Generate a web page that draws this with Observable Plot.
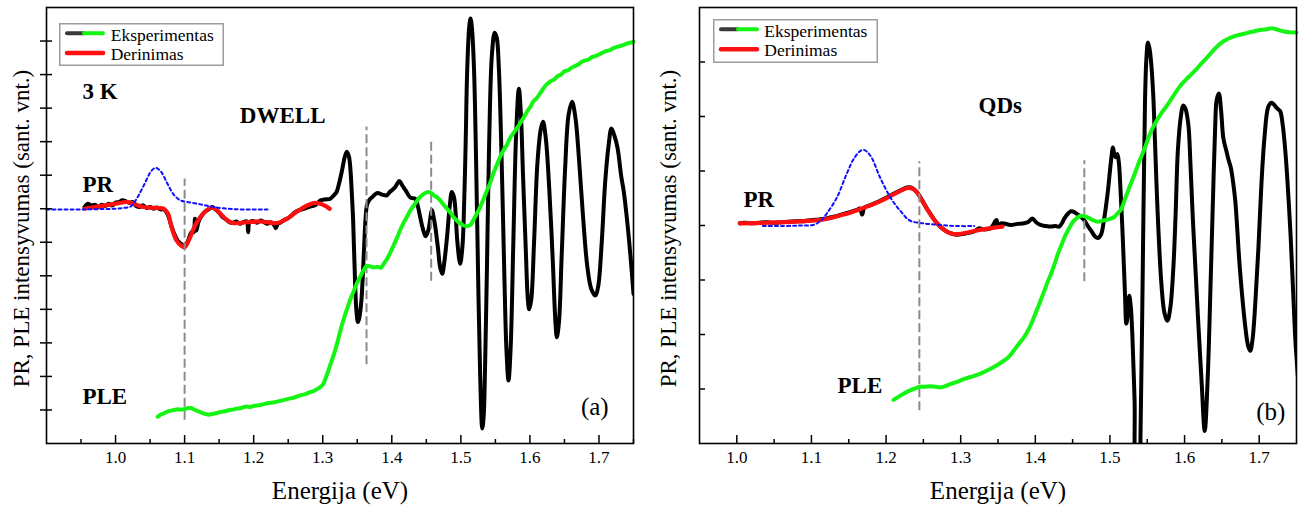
<!DOCTYPE html>
<html>
<head>
<meta charset="utf-8">
<script src="https://cdn.jsdelivr.net/npm/d3@7"></script>
<script src="https://cdn.jsdelivr.net/npm/@observablehq/plot@0.6"></script>
<style>
  html, body { margin: 0; padding: 0; background: #fff; }
  #wrap { display: flex; width: 1312px; height: 508px; overflow: hidden; }
  .panel { position: relative; height: 508px; }
  .panel svg { display: block; font-family: "Liberation Serif", serif; }
  .panel svg text { font-family: "Liberation Serif", serif; }
  .legend { position: absolute; }
</style>
</head>
<body>
<div id="wrap"></div>
<script>
// ---------------- Panel (a): DWELL ----------------
const aPR = [
  [0.955,7.05],[0.96,7.15],[0.965,7.1],[0.97,7.12],[0.975,7.05],[0.98,7.12],[0.985,7.08],[0.99,7.15],[0.995,7.1],
  [1.0,7.18],[1.005,7.2],[1.01,7.25],[1.015,7.22],[1.02,7.18],[1.025,7.2],[1.03,7.08],[1.035,7.05],[1.04,7.1],
  [1.045,7.02],[1.05,7.05],[1.055,7.0],[1.06,7.04],[1.065,6.98],[1.07,6.98],[1.075,6.85],[1.08,6.55],[1.085,6.25],
  [1.09,6.05],[1.095,5.95],[1.1,5.88],[1.105,6.05],[1.11,6.3],[1.113,6.3],[1.115,6.7],[1.117,6.35],[1.12,6.6],
  [1.125,6.8],[1.13,6.92],[1.135,6.98],[1.14,7.05],[1.145,6.98],[1.15,6.88],[1.155,6.75],[1.16,6.68],[1.165,6.6],
  [1.17,6.58],[1.175,6.62],[1.18,6.55],[1.185,6.6],[1.19,6.62],[1.192,6.3],[1.194,6.6],[1.2,6.63],[1.205,6.58],
  [1.21,6.65],[1.215,6.6],[1.22,6.55],[1.225,6.6],[1.23,6.5],[1.232,6.42],[1.235,6.55],[1.24,6.6],[1.245,6.68],
  [1.25,6.72],[1.255,6.8],[1.26,6.9],[1.265,6.95],[1.27,6.98],[1.28,7.05],[1.29,7.12],[1.297,7.25],[1.305,7.28],
  [1.311,7.3],[1.316,7.4],[1.32,7.5],[1.323,7.7],[1.328,8.15],[1.332,8.55],[1.335,8.7],[1.338,8.55],[1.34,8.2],
  [1.342,7.5],[1.344,6.66],[1.347,4.7],[1.349,3.9],[1.351,3.62],[1.353,3.75],[1.356,4.27],[1.358,5.0],[1.36,5.9],
  [1.362,6.7],[1.364,7.1],[1.367,7.25],[1.372,7.35],[1.379,7.47],[1.386,7.42],[1.393,7.4],[1.397,7.5],[1.4,7.55],
  [1.405,7.65],[1.411,7.83],[1.415,7.7],[1.42,7.55],[1.427,7.33],[1.434,7.3],[1.438,7.05],[1.441,6.76],[1.445,6.4],
  [1.449,6.18],[1.453,6.36],[1.456,6.75],[1.458,6.96],[1.461,6.7],[1.463,6.46],[1.467,5.8],[1.47,5.25],[1.473,5.06],
  [1.476,5.4],[1.48,6.16],[1.484,7.1],[1.487,7.5],[1.49,7.35],[1.492,7.0],[1.495,6.0],[1.499,5.36],[1.502,5.8],
  [1.504,6.6],[1.507,9.0],[1.509,11.0],[1.512,12.4],[1.514,12.67],[1.516,12.4],[1.519,11.2],[1.522,8.5],[1.525,5.0],
  [1.528,2.0],[1.531,0.45],[1.533,0.8],[1.535,2.2],[1.538,5.5],[1.541,9.0],[1.545,11.6],[1.549,12.25],[1.552,12.1],
  [1.555,11.2],[1.559,8.5],[1.563,5.0],[1.566,2.8],[1.569,1.88],[1.572,2.8],[1.576,6.0],[1.58,9.2],[1.584,10.58],
  [1.587,9.8],[1.59,8.0],[1.594,5.8],[1.597,4.3],[1.599,4.0],[1.602,4.3],[1.606,6.0],[1.611,8.4],[1.616,9.4],
  [1.619,9.59],[1.623,9.1],[1.628,7.6],[1.633,5.5],[1.637,3.6],[1.639,3.17],[1.642,3.6],[1.646,5.6],[1.651,8.2],
  [1.656,9.8],[1.661,10.19],[1.666,9.7],[1.671,8.5],[1.677,6.75],[1.683,5.3],[1.689,4.6],[1.695,4.41],[1.699,4.7],
  [1.704,6.0],[1.709,7.8],[1.714,8.9],[1.718,9.39],[1.722,9.2],[1.727,8.8],[1.732,8.0],[1.736,7.5],[1.741,6.6],
  [1.746,5.5],[1.75,4.46]
];
const aFit = [
  [0.955,7.0],[0.97,7.05],[0.985,7.1],[1.0,7.15],[1.017,7.2],[1.03,7.12],[1.04,7.05],[1.051,7.03],[1.063,7.02],
  [1.07,7.0],[1.076,6.85],[1.081,6.45],[1.088,6.06],[1.095,5.9],[1.1,5.85],[1.107,6.1],[1.114,6.45],[1.121,6.7],
  [1.128,6.88],[1.135,7.0],[1.14,7.03],[1.146,6.97],[1.152,6.85],[1.162,6.65],[1.171,6.57],[1.181,6.58],[1.191,6.6],
  [1.2,6.61],[1.21,6.62],[1.22,6.6],[1.229,6.57],[1.237,6.59],[1.244,6.65],[1.251,6.74],[1.258,6.85],[1.266,6.96],
  [1.273,7.05],[1.28,7.12],[1.287,7.17],[1.293,7.17],[1.299,7.13],[1.305,7.07],[1.31,7.0]
];
const aGauss = [
  [0.9,6.98],[0.95,6.98],[0.98,6.99],[1.0,7.0],[1.01,7.02],[1.022,7.07],[1.032,7.35],[1.041,7.7],[1.051,8.1],
  [1.058,8.22],[1.066,8.1],[1.075,7.75],[1.085,7.4],[1.094,7.25],[1.104,7.2],[1.123,7.13],[1.142,7.05],
  [1.162,7.0],[1.181,6.98],[1.22,6.98]
];
const aPLE = [
  [1.061,0.8],[1.065,0.86],[1.07,0.9],[1.075,0.95],[1.08,0.98],[1.085,1.0],[1.09,1.02],[1.095,1.01],[1.1,1.03],
  [1.105,1.06],[1.11,1.05],[1.115,1.0],[1.12,0.96],[1.125,0.91],[1.13,0.88],[1.135,0.86],[1.14,0.88],[1.145,0.9],
  [1.15,0.93],[1.155,0.95],[1.16,0.97],[1.165,1.0],[1.17,1.01],[1.175,1.04],[1.18,1.05],[1.185,1.08],[1.19,1.1],
  [1.195,1.09],[1.2,1.12],[1.21,1.15],[1.22,1.2],[1.23,1.23],[1.24,1.28],[1.25,1.33],[1.26,1.38],[1.265,1.42],
  [1.27,1.45],[1.275,1.47],[1.28,1.52],[1.285,1.55],[1.29,1.6],[1.295,1.66],[1.3,1.75],[1.306,2.05],[1.311,2.35],
  [1.316,2.65],[1.321,3.0],[1.326,3.4],[1.331,3.75],[1.335,4.0],[1.34,4.3],[1.345,4.55],[1.35,4.8],[1.355,5.0],
  [1.36,5.2],[1.364,5.3],[1.369,5.28],[1.374,5.25],[1.379,5.27],[1.384,5.24],[1.388,5.35],[1.393,5.5],[1.398,5.7],
  [1.403,5.92],[1.408,6.15],[1.412,6.36],[1.417,6.58],[1.422,6.76],[1.427,6.95],[1.432,7.1],[1.437,7.25],[1.441,7.35],
  [1.447,7.45],[1.453,7.5],[1.457,7.47],[1.461,7.4],[1.466,7.33],[1.47,7.25],[1.475,7.12],[1.48,7.0],[1.485,6.88],
  [1.489,6.76],[1.494,6.65],[1.499,6.56],[1.504,6.5],[1.509,6.48],[1.514,6.52],[1.518,6.66],[1.523,6.85],[1.528,7.05],
  [1.533,7.3],[1.538,7.55],[1.543,7.8],[1.547,8.05],[1.552,8.3],[1.557,8.55],[1.562,8.75],[1.567,8.92],[1.571,9.1],
  [1.576,9.25],[1.581,9.4],[1.586,9.55],[1.591,9.72],[1.596,9.9],[1.601,10.05],[1.605,10.2],[1.61,10.3],[1.615,10.45],
  [1.62,10.6],[1.624,10.7],[1.63,10.8],[1.635,10.85],[1.64,10.95],[1.645,11.0],[1.65,11.1],[1.655,11.12],[1.66,11.2],
  [1.665,11.25],[1.67,11.3],[1.675,11.38],[1.68,11.42],[1.685,11.45],[1.69,11.52],[1.695,11.55],[1.7,11.6],
  [1.705,11.65],[1.71,11.7],[1.715,11.72],[1.72,11.78],[1.725,11.82],[1.73,11.85],[1.735,11.88],[1.74,11.92],
  [1.745,11.95],[1.75,11.98]
];
const aDash = [
  {e: 1.1, y1: 0.69, y2: 7.89},
  {e: 1.3634, y1: 2.35, y2: 9.44},
  {e: 1.457, y1: 4.84, y2: 9.04}
];
const aNotes = [
  {e: 0.952, v: 10.48, t: "3 K"},
  {e: 1.18, v: 9.79, t: "DWELL"},
  {e: 0.952, v: 7.73, t: "PR"},
  {e: 0.952, v: 1.41, t: "PLE"}
];
const aTag = [{e: 1.694, v: 1.08, t: "(a)"}];
const aXDomain = [0.9, 1.75];
const aYDomain = [0, 13];
const aYTicks = [1,2,3,4,5,6,7,8,9,10,11,12];

// ---------------- Panel (b): QDs ----------------
const bPR = [
  [1.004,4.04],[1.01,4.05],[1.02,4.04],[1.03,4.05],[1.04,4.06],[1.05,4.05],[1.06,4.06],[1.07,4.07],[1.08,4.08],
  [1.09,4.08],[1.1,4.1],[1.11,4.11],[1.12,4.13],[1.13,4.16],[1.14,4.2],[1.15,4.24],[1.16,4.28],[1.165,4.31],
  [1.168,4.2],[1.171,4.33],[1.18,4.38],[1.19,4.44],[1.2,4.51],[1.21,4.58],[1.22,4.65],[1.23,4.7],[1.236,4.68],
  [1.242,4.6],[1.248,4.47],[1.254,4.33],[1.26,4.2],[1.266,4.08],[1.273,3.97],[1.28,3.9],[1.286,3.86],[1.295,3.83],
  [1.305,3.85],[1.318,3.89],[1.325,3.95],[1.33,3.93],[1.34,3.95],[1.348,4.1],[1.35,3.97],[1.354,4.04],[1.367,4.01],
  [1.376,4.03],[1.385,4.04],[1.391,4.07],[1.396,4.13],[1.401,4.06],[1.407,4.01],[1.414,3.99],[1.421,3.98],
  [1.427,3.99],[1.432,3.98],[1.436,4.05],[1.439,4.13],[1.444,4.22],[1.448,4.26],[1.453,4.24],[1.457,4.2],
  [1.462,4.15],[1.466,4.09],[1.47,4.0],[1.475,3.9],[1.48,3.8],[1.484,3.77],[1.488,3.83],[1.492,4.1],[1.497,4.6],
  [1.5,5.0],[1.502,5.25],[1.504,5.43],[1.506,5.3],[1.508,5.25],[1.51,5.31],[1.512,5.15],[1.514,4.7],[1.517,3.84],
  [1.52,2.8],[1.522,2.2],[1.524,2.4],[1.526,2.71],[1.528,2.5],[1.53,2.0],[1.533,0.8],[1.536,-0.6],[1.539,-0.6],
  [1.541,0.2],[1.544,3.2],[1.547,6.29],[1.549,7.1],[1.551,7.36],[1.553,7.25],[1.555,7.02],[1.558,6.4],[1.56,5.68],
  [1.564,4.21],[1.569,2.92],[1.573,2.4],[1.577,2.25],[1.581,2.5],[1.585,3.23],[1.588,4.2],[1.591,5.37],[1.595,6.0],
  [1.598,6.2],[1.601,6.15],[1.605,5.86],[1.608,5.1],[1.611,4.15],[1.615,3.1],[1.618,2.31],[1.623,1.09],[1.627,0.23],
  [1.631,1.2],[1.635,3.0],[1.638,4.45],[1.641,5.8],[1.643,6.3],[1.646,6.42],[1.649,6.1],[1.652,5.6],[1.656,5.37],
  [1.659,5.2],[1.662,5.06],[1.665,4.8],[1.668,4.45],[1.674,3.23],[1.681,2.19],[1.685,1.8],[1.688,1.7],[1.691,1.9],
  [1.695,2.62],[1.699,3.6],[1.703,4.76],[1.707,5.6],[1.712,6.17],[1.716,6.25],[1.719,6.23],[1.724,6.15],[1.728,6.1],
  [1.731,5.9],[1.735,5.37],[1.742,3.84],[1.748,2.01],[1.752,1.21]
];
const bFit = [
  [1.004,4.04],[1.04,4.05],[1.08,4.07],[1.1,4.09],[1.12,4.12],[1.143,4.2],[1.165,4.3],[1.188,4.42],[1.21,4.57],
  [1.223,4.66],[1.23,4.69],[1.236,4.67],[1.242,4.6],[1.248,4.46],[1.254,4.32],[1.26,4.2],[1.266,4.08],[1.273,3.98],
  [1.28,3.9],[1.286,3.86],[1.295,3.84],[1.305,3.86],[1.318,3.9],[1.33,3.93],[1.345,3.96],[1.356,3.98]
];
const bGauss = [
  [1.035,3.99],[1.062,3.99],[1.085,4.0],[1.102,4.01],[1.112,4.08],[1.12,4.21],[1.134,4.51],[1.147,4.94],[1.158,5.25],
  [1.169,5.39],[1.179,5.28],[1.192,4.88],[1.206,4.51],[1.219,4.27],[1.232,4.09],[1.25,4.04],[1.273,4.01],
  [1.295,3.99],[1.318,3.99]
];
const bPLE = [
  [1.21,0.8],[1.217,0.86],[1.223,0.91],[1.23,0.96],[1.237,1.0],[1.246,1.04],[1.252,1.04],[1.259,1.05],[1.266,1.04],
  [1.273,1.03],[1.279,1.05],[1.286,1.09],[1.295,1.13],[1.304,1.18],[1.313,1.22],[1.322,1.26],[1.331,1.31],[1.34,1.37],
  [1.349,1.44],[1.358,1.52],[1.365,1.6],[1.371,1.7],[1.378,1.83],[1.385,1.95],[1.392,2.12],[1.398,2.31],[1.405,2.55],
  [1.412,2.8],[1.417,2.98],[1.421,3.11],[1.426,3.3],[1.43,3.47],[1.435,3.64],[1.439,3.78],[1.445,3.94],[1.45,4.06],
  [1.456,4.14],[1.461,4.18],[1.466,4.17],[1.47,4.15],[1.477,4.1],[1.484,4.07],[1.49,4.09],[1.495,4.1],[1.5,4.12],
  [1.506,4.16],[1.51,4.22],[1.515,4.3],[1.52,4.48],[1.526,4.7],[1.533,4.94],[1.54,5.2],[1.547,5.43],[1.553,5.66],
  [1.56,5.86],[1.569,6.06],[1.578,6.23],[1.587,6.42],[1.596,6.59],[1.605,6.72],[1.614,6.84],[1.623,6.98],[1.632,7.11],
  [1.641,7.25],[1.65,7.36],[1.659,7.43],[1.668,7.48],[1.677,7.51],[1.686,7.54],[1.695,7.57],[1.703,7.59],[1.71,7.6],
  [1.717,7.62],[1.723,7.6],[1.73,7.57],[1.737,7.55],[1.744,7.54],[1.75,7.54]
];
const bDash = [
  {e: 1.2446, y1: 0.6, y2: 5.17},
  {e: 1.4657, y1: 2.97, y2: 5.19}
];
const bNotes = [
  {e: 1.324, v: 6.2, t: "QDs"},
  {e: 1.009, v: 4.47, t: "PR"},
  {e: 1.135, v: 1.06, t: "PLE"}
];
const bTag = [{e: 1.7156, v: 0.57, t: "(b)"}];
const bXDomain = [0.95, 1.75];
const bYDomain = [0, 8];
const bYTicks = [1,2,3,4,5,6,7];

// shared axis ticks & texts
const majorTicks = [1.0,1.1,1.2,1.3,1.4,1.5,1.6,1.7];
const minorTicksA = [0.95,1.05,1.15,1.25,1.35,1.45,1.55,1.65,1.75];
const minorTicksB = [1.05,1.15,1.25,1.35,1.45,1.55,1.65];
const xLabel = "Energija (eV)";
const yLabel = "PR, PLE intensyvumas (sant. vnt.)";
const legendLabels = ["Eksperimentas", "Derinimas"];

const FONT = "Liberation Serif";
const GREEN = "#14f514";
const RED = "#ff1010";

function makePanel(cfg) {
  const H = 508;
  const innerW = cfg.width - cfg.ml - cfg.mr;
  const innerH = H - cfg.mt - cfg.mb;
  const fx = d => d[0], fy = d => d[1];
  const svg = Plot.plot({
    width: cfg.width, height: H,
    marginLeft: cfg.ml, marginRight: cfg.mr, marginTop: cfg.mt, marginBottom: cfg.mb,
    x: {domain: cfg.xDomain},
    y: {domain: cfg.yDomain, axis: null},
    style: {fontFamily: FONT, background: "white", color: "black", overflow: "visible"},
    marks: [
      Plot.line(cfg.pr, {x: fx, y: fy, stroke: "#000", strokeWidth: 4, curve: "catmull-rom", clip: true, strokeLinejoin: "round", strokeLinecap: "round"}),
      Plot.line(cfg.fit, {x: fx, y: fy, stroke: RED, strokeWidth: 4.2, curve: "catmull-rom", strokeLinecap: "round"}),
      Plot.line(cfg.gauss, {x: fx, y: fy, stroke: "#1010ff", strokeWidth: 2, strokeDasharray: "3,3", curve: "catmull-rom"}),
      Plot.ruleX(cfg.dash, {x: "e", y1: "y1", y2: "y2", stroke: "#8c8c8c", strokeWidth: 2, strokeDasharray: "9,4"}),
      Plot.line(cfg.ple, {x: fx, y: fy, stroke: GREEN, strokeWidth: 4, curve: "catmull-rom", strokeLinejoin: "round", strokeLinecap: "round"}),
      Plot.frame({stroke: "#000", strokeWidth: 1.6}),
      Plot.tickX(majorTicks, {x: d => d, stroke: "#000", strokeWidth: 1.5, insetTop: innerH - 8}),
      Plot.tickX(cfg.minor, {x: d => d, stroke: "#000", strokeWidth: 1.5, insetTop: innerH - 4}),
      Plot.tickY(cfg.yTicks, {y: d => d, stroke: "#000", strokeWidth: 1.5, insetRight: innerW - 6, insetLeft: cfg.yTickOut}),
      Plot.axisX({ticks: majorTicks, tickSize: 0, tickPadding: 7, tickFormat: d3.format(".1f"), fontSize: 17, fontFamily: FONT, fill: "#000", label: null}),
      Plot.text(cfg.notes, {x: "e", y: "v", text: "t", textAnchor: "start", fontSize: 23, fontWeight: "bold", fontFamily: FONT, fill: "#000"}),
      Plot.text(cfg.tag, {x: "e", y: "v", text: "t", textAnchor: "middle", fontSize: 25, fontFamily: FONT, fill: "#000"}),
      Plot.text([xLabel], {text: d => d, frameAnchor: "bottom", textAnchor: "middle", lineAnchor: "middle", dy: 47, fontSize: 25, fontFamily: FONT, fill: "#000"}),
      Plot.text([yLabel], {text: d => d, frameAnchor: "left", textAnchor: "middle", lineAnchor: "middle", rotate: -90, dx: cfg.ylDx, dy: 3, fontSize: 23, fontFamily: FONT, fill: "#000"})
    ]
  });
  const div = document.createElement("div");
  div.className = "panel";
  div.style.width = cfg.width + "px";
  div.appendChild(svg);

  // legend box (overlay)
  const lg = cfg.legend;
  const ns = "http://www.w3.org/2000/svg";
  const L = document.createElementNS(ns, "svg");
  L.setAttribute("class", "legend");
  L.setAttribute("width", lg.w);
  L.setAttribute("height", lg.h);
  L.style.left = lg.x + "px";
  L.style.top = lg.y + "px";
  L.innerHTML = `
    <rect x="0.75" y="0.75" width="${lg.w - 1.5}" height="${lg.h - 1.5}" fill="#fff" stroke="#9c9c9c" stroke-width="1.5"/>
    <line x1="8" x2="25" y1="${lg.l1}" y2="${lg.l1}" stroke="#3a3a3a" stroke-width="4" stroke-linecap="round"/>
    <line x1="25" x2="44" y1="${lg.l1}" y2="${lg.l1}" stroke="${GREEN}" stroke-width="4" stroke-linecap="round"/>
    <line x1="8" x2="44" y1="${lg.l2}" y2="${lg.l2}" stroke="${RED}" stroke-width="4.5" stroke-linecap="round"/>
    <text x="${lg.tx}" y="${lg.b1}" font-family="${FONT}" font-size="17.5" fill="#000">${legendLabels[0]}</text>
    <text x="${lg.tx}" y="${lg.b2}" font-family="${FONT}" font-size="17.5" fill="#000">${legendLabels[1]}</text>`;
  div.appendChild(L);
  return div;
}

const wrap = document.getElementById("wrap");
wrap.appendChild(makePanel({
  width: 650, ml: 46, mr: 17, mt: 7, mb: 65,
  xDomain: aXDomain, yDomain: aYDomain, yTicks: aYTicks, yTickOut: -6, minor: minorTicksA,
  pr: aPR, fit: aFit, gauss: aGauss, ple: aPLE, dash: aDash, notes: aNotes, tag: aTag, ylDx: -25,
  legend: {x: 59, y: 23, w: 165, h: 43, l1: 10.3, l2: 30, tx: 51.7, b1: 17.5, b2: 36.5}
}));
wrap.appendChild(makePanel({
  width: 662, ml: 49, mr: 16, mt: 7, mb: 65,
  xDomain: bXDomain, yDomain: bYDomain, yTicks: bYTicks, yTickOut: 0, minor: minorTicksB,
  pr: bPR, fit: bFit, gauss: bGauss, ple: bPLE, dash: bDash, notes: bNotes, tag: bTag, ylDx: -31,
  legend: {x: 63, y: 19, w: 165, h: 44, l1: 10.3, l2: 30.3, tx: 51.3, b1: 17.5, b2: 36.5}
}));
</script>
</body>
</html>
